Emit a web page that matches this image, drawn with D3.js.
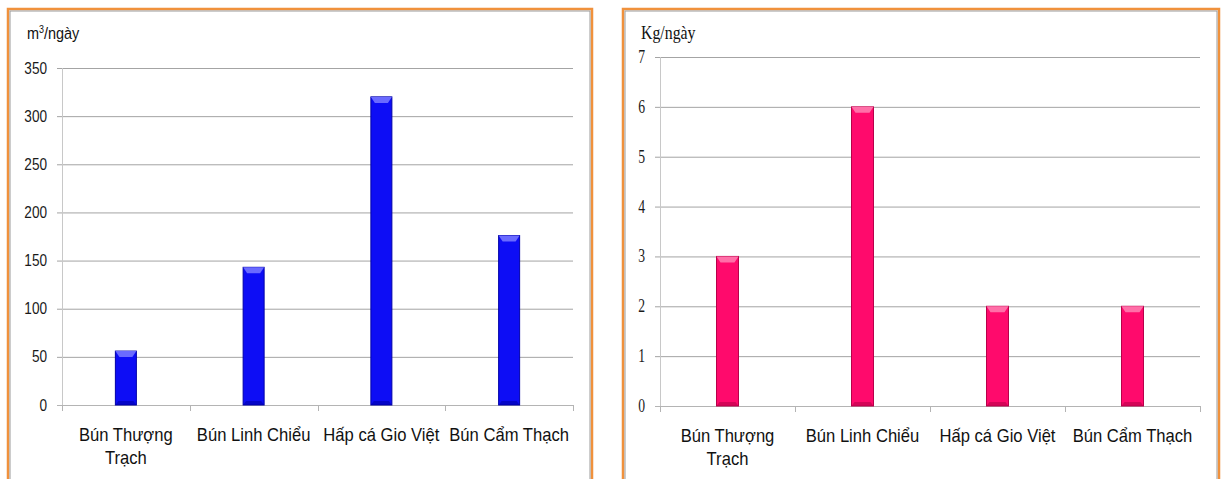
<!DOCTYPE html>
<html>
<head>
<meta charset="utf-8">
<script src="https://cdn.jsdelivr.net/npm/d3@7"></script>
<style>
body{margin:0;background:#fff}
</style>
</head>
<body>
<svg id="chart"></svg>
<script>
var categories = ["Bún Thượng Trạch","Bún Linh Chiểu","Hấp cá Gio Việt","Bún Cẩm Thạch"]
var categoryLines = [["Bún Thượng","Trạch"],["Bún Linh Chiểu"],["Hấp cá Gio Việt"],["Bún Cẩm Thạch"]]
var waterValues = [56,143,320,176]
var waterTicks = [0,50,100,150,200,250,300,350]
var wasteValues = [3,6,2,2]
var wasteTicks = [0,1,2,3,4,5,6,7]

var svg = d3.select("#chart").attr("width",1221).attr("height",479)

var drawPanel = function(p)
{
  var g = svg.append("g")
  g.append("rect")
    .attr("x",p.left).attr("y",p.top)
    .attr("width",p.right-p.left).attr("height",520)
    .attr("fill","#fff")
    .attr("stroke","#f0913c").attr("stroke-width",2.5)
  g.append("rect")
    .attr("x",p.left+2).attr("y",p.top+2)
    .attr("width",p.right-p.left-4).attr("height",520)
    .attr("fill","none")
    .attr("stroke","#9a9a9a").attr("stroke-width",1)

  var yScale = d3.scaleLinear().domain(p.domain).range([p.y0,p.y1])
  var xScale = d3.scaleBand().domain(categories).range([p.x0,p.x1])

  // gridlines
  g.selectAll(".grid")
    .data(p.ticks)
    .enter()
    .append("line")
    .attr("x1",p.x0-5).attr("x2",p.x1)
    .attr("y1",function(d){return yScale(d)+0.5})
    .attr("y2",function(d){return yScale(d)+0.5})
    .attr("stroke",function(d){return d==0 ? "#b4b4b4" : "#a4a4a4"})
    .attr("stroke-width",1)

  // y axis line
  g.append("line")
    .attr("x1",p.x0+0.5).attr("x2",p.x0+0.5)
    .attr("y1",p.y1).attr("y2",p.y0)
    .attr("stroke","#c8c8c8")

  // x ticks at category boundaries
  var bounds = categories.map(function(c){return xScale(c)}).concat([p.x1])
  g.selectAll(".xt")
    .data(bounds)
    .enter()
    .append("line")
    .attr("x1",function(d){return Math.round(d)+0.5})
    .attr("x2",function(d){return Math.round(d)+0.5})
    .attr("y1",p.y0).attr("y2",p.y0+6)
    .attr("stroke","#b4b4b4")

  // y tick labels
  g.selectAll(".yl")
    .data(p.ticks)
    .enter()
    .append("text")
    .text(function(d){return d})
    .attr("text-anchor","end")
    .attr("font-family",p.tickFont)
    .attr("font-size",p.tickSize)
    .attr("fill","#1a1a1a")
    .attr("transform",function(d){
      return "translate("+p.labelX+","+(yScale(d)+p.tickDy)+") scale("+p.tickSx+",1)"})

  // bars
  var bw = p.barW
  var bars = g.selectAll(".bar")
    .data(p.values)
    .enter()
    .append("g")
  bars.append("rect")
    .attr("x",function(d,i){return xScale(categories[i])+xScale.bandwidth()/2-bw/2})
    .attr("y",function(d){return yScale(d)})
    .attr("width",bw)
    .attr("height",function(d){return p.y0-yScale(d)})
    .attr("fill",p.color)
    .attr("stroke",p.edge).attr("stroke-width",1)
  bars.append("path")
    .attr("d",function(d,i){
      var x = xScale(categories[i])+xScale.bandwidth()/2-bw/2
      var y = yScale(d)
      return "M"+x+","+y+"L"+(x+bw)+","+y+"L"+(x+bw-4)+","+(y+6)+"L"+(x+4)+","+(y+6)+"Z"})
    .attr("fill",p.light)
  bars.append("path")
    .attr("d",function(d,i){
      var x = xScale(categories[i])+xScale.bandwidth()/2-bw/2
      var y = p.y0
      return "M"+x+","+y+"L"+(x+bw)+","+y+"L"+(x+bw-3)+","+(y-4)+"L"+(x+3)+","+(y-4)+"Z"})
    .attr("fill",p.edge).attr("opacity",0.6)

  // category labels
  categoryLines.forEach(function(lines,i){
    var cx = xScale(categories[i])+xScale.bandwidth()/2
    lines.forEach(function(t,j){
      g.append("text")
        .text(t)
        .attr("text-anchor","middle")
        .attr("font-family","'Liberation Sans', Arial, sans-serif")
        .attr("font-size",17.5)
        .attr("fill","#111")
        .attr("transform","translate("+cx+","+(p.y0+36+j*23)+") scale(0.95,1)")
    })
  })

  // unit label
  var unit = g.append("text")
    .attr("font-family",p.unitFont)
    .attr("font-size",p.unitSize)
    .attr("fill","#111")
    .attr("transform","translate("+p.unitX+",39) scale("+p.unitSx+",1)")
  p.unit.forEach(function(u){
    var s = unit.append("tspan").text(u.t)
    if(u.sup) s.attr("font-size",p.unitSize*0.62).attr("dy",-6)
    if(u.down) s.attr("dy",6)
  })
}

drawPanel({left:8,right:592,top:9,
  domain:[0,350],ticks:waterTicks,values:waterValues,
  y0:405,y1:68,x0:62,x1:573,barW:21,
  color:"#0d0df5",light:"#6a6aff",edge:"#0000a8",
  tickFont:"'Liberation Sans', Arial, sans-serif",tickSize:16,tickSx:0.85,tickDy:5.5,labelX:47,
  unitFont:"'Liberation Sans', Arial, sans-serif",unitSize:17,unitSx:0.85,unitX:27,
  unit:[{t:"m"},{t:"3",sup:true},{t:"/ngày",down:true}]})

drawPanel({left:623,right:1219,top:9,
  domain:[0,7],ticks:wasteTicks,values:wasteValues,
  y0:406,y1:57,x0:660,x1:1200,barW:22,
  color:"#ff0a6c",light:"#ff6fa8",edge:"#b8004a",
  tickFont:"'Liberation Serif', 'Times New Roman', serif",tickSize:19,tickSx:0.72,tickDy:6,labelX:645,
  unitFont:"'Liberation Serif', 'Times New Roman', serif",unitSize:18,unitSx:0.88,unitX:641,
  unit:[{t:"Kg/ngày"}]})
</script>
</body>
</html>
